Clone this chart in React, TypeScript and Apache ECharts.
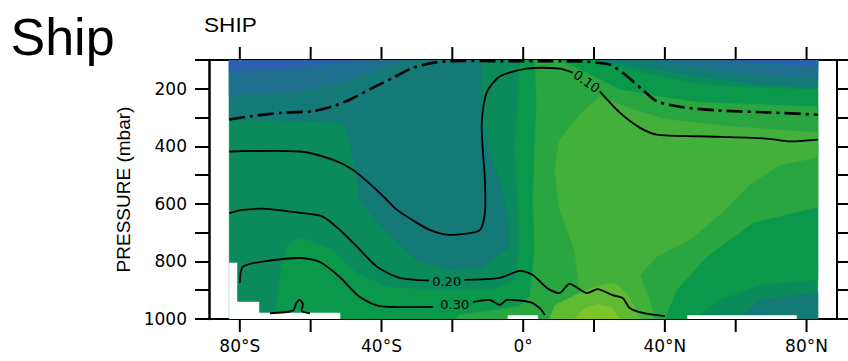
import React, { useEffect, useRef } from 'react';
import * as echarts from 'echarts';

// ---- axes ----
const LAT_MIN = -88.7;
const LAT_MAX = 88.6;
const TICK_MIN = -80;
const TICK_MAX = 80;
const P_MIN = 100;
const P_MAX = 1000;
const LAT_TICKS = [-80, -60, -40, -20, 0, 20, 40, 60, 80];
const LAT_LABELS = [-80, -40, 0, 40, 80];
const P_LABELS = [200, 400, 600, 800, 1000];

// ---- filled regions, [latitude, pressure] ----
const C3_BASE = [[-83, 100], [83.2, 100], [83.2, 1000], [-83, 1000]];
const C4_REGION = [[-1, 100], [18.8, 100], [24.5, 116], [35.7, 150], [49.9, 185], [66.8, 196], [83.2, 203], [83.2, 864], [66.8, 882], [55.5, 934], [48.4, 1000], [-70.1, 1000], [-68.7, 854], [-66.8, 749], [-63.1, 715], [-53.8, 760], [-47, 840], [-38.5, 889], [-25.5, 899], [-8.6, 899], [-2.4, 864], [-1, 760], [-1.5, 586], [-2.4, 412], [-1.5, 238]];
const C5_REGION = [[3.3, 100], [10.3, 100], [18.8, 150], [27.3, 203], [38.5, 227], [49.8, 248], [66.8, 255], [83.2, 262], [83.2, 610], [64.8, 666], [51.8, 784], [43.3, 899], [40, 1000], [-19.3, 1000], [-17.9, 985], [-9.4, 972], [-1, 955], [1.9, 920], [3.3, 760], [2.7, 586], [3.3, 412], [3.8, 238]];
const C6_REGION = [[21.6, 227], [31, 272], [40.5, 307], [59.2, 332], [83.2, 352], [83.2, 439], [72.4, 464], [64, 533], [55.5, 638], [47, 725], [37.7, 784], [32.9, 847], [35.7, 934], [37.1, 1000], [13.1, 1000], [15.9, 899], [14.5, 760], [10.3, 621], [8.9, 481], [10.3, 377], [15.9, 290]];
const C7_REGION = [[7.5, 1000], [8.9, 953], [14.5, 918], [21, 885], [25.9, 875], [29.5, 916], [32.9, 1000]];
const C8_REGION = [[14.5, 1000], [17.4, 962], [21, 948], [25, 962], [27.3, 1000]];
const C2_WEST = [[-83, 100], [-83, 307], [-63.1, 311], [-51, 319], [-49, 377], [-47, 492], [-46.2, 586], [-38.5, 701], [-30, 795], [-20.7, 829], [-11.4, 819], [-3.8, 749], [-4.6, 631], [-6.6, 516], [-9.4, 429], [-11.7, 307], [-12, 168], [-11.4, 100]];
const C2_NE = [[21.6, 100], [83.2, 100], [83.2, 196], [66.8, 185], [49.9, 157], [32.9, 123], [21.6, 102]];
const C2_SE = [[61.1, 1000], [66.8, 934], [83.2, 909], [83.2, 1000]];
const C1_NW = [[-83, 100], [-83, 220], [-63.1, 210], [-49, 168], [-39.6, 126], [-32.9, 100]];
const C1_NE = [[38.5, 100], [83.2, 100], [83.2, 165], [64, 147], [47, 119]];
const C0_NW = [[-83, 100], [-83, 140], [-63.1, 126], [-49, 105], [-45, 100]];
const C0_NE = [[58, 100], [83.2, 100], [83.2, 123], [66.8, 109]];
const MASK_SW = [[-83, 805], [-80.8, 805], [-80.8, 941], [-74.6, 941], [-74.6, 979], [-51.7, 979], [-51.7, 1000], [-83, 1000]];
const MASK_EQ = [[-4.3, 988], [4.1, 988], [4.1, 1000], [-4.3, 1000]];
const MASK_NH = [[46.4, 988], [77.2, 988], [77.2, 1000], [46.4, 1000]];

// ---- contour lines ----
const LINE_DASHDOT = [[-83, 307], [-77.2, 296], [-67.9, 283], [-59.4, 278], [-53.8, 261], [-49, 238], [-42.5, 197], [-36.8, 162], [-31.2, 127], [-25.6, 110], [-20.7, 104], [-6.6, 104], [10.3, 104], [16.8, 105], [24.4, 116], [28.1, 144], [33.7, 203], [37.7, 243], [45.1, 264], [54.7, 275], [68.8, 282], [83.2, 290]];
const LINE_010_A = [[-83, 418], [-63.1, 418], [-53.8, 446], [-48.1, 481], [-42.5, 539], [-38.5, 586], [-35.7, 620], [-30, 666], [-26.4, 690], [-21.6, 707], [-16.5, 704], [-12.2, 690], [-10.8, 631], [-10.8, 516], [-11.4, 412], [-11.7, 318], [-10.3, 213], [-6.6, 157], [1, 130], [10.3, 130], [14, 144]];
const LINE_010_B = [[21.6, 209], [27.3, 283], [32.9, 335], [37.7, 359], [49.8, 365], [68.8, 373], [75.3, 383], [83.2, 377]];
const LINE_020_A = [[-83, 632], [-79.2, 621], [-72.4, 617], [-63.1, 631], [-56.6, 644], [-51.8, 690], [-47, 748], [-41.3, 818], [-34.9, 857], [-26.6, 866]];
const LINE_020_B = [[-16.6, 864], [-6.6, 857], [-1, 833], [2.7, 847], [6.7, 892], [10.3, 910], [13.1, 878], [17.9, 910], [21, 896], [25.2, 917], [28.1, 927], [30.1, 962], [33.8, 979], [40, 990]];
const LINE_030_A = [[-80, 875], [-79.2, 819], [-74.4, 802], [-63.1, 788], [-57.4, 802], [-51.8, 854], [-46.2, 923], [-40.5, 955], [-25.5, 958]];
const LINE_030_B = [[-14.2, 941], [-9.4, 934], [-6.6, 951], [-4.6, 934], [1.9, 941], [4.7, 962], [6.1, 986]];
const LINE_SURF = [[-71.5, 980], [-65, 971], [-64, 944], [-63.1, 934], [-62.2, 948], [-62.5, 972], [-60.2, 980]];

// ---- contour labels ----
const LABEL_TEXTS = ['0.10', '0.20', '0.30'];
const LABEL_POS = [[17.9, 175], [-21.6, 871], [-19.3, 951]];
const LABEL_ANGLE = [-0.62, 0, 0];

const COLORS = ['#2d5fae', '#1e6f8d', '#137a78', '#0b8a5c', '#0a984b', '#29a640', '#42b03a', '#5fbb31', '#7cc62a', '#ffffff'];

const FILL_LAYERS: [number[][], number][] = [
  [C3_BASE, 3], [C4_REGION, 4], [C5_REGION, 5], [C6_REGION, 6], [C7_REGION, 7], [C8_REGION, 8],
  [C2_WEST, 2], [C2_NE, 2], [C2_SE, 2], [C1_NW, 1], [C1_NE, 1], [C0_NW, 0], [C0_NE, 0],
  [MASK_SW, 9], [MASK_EQ, 9], [MASK_NH, 9],
];

const LINES: [number[][], boolean][] = [
  [LINE_DASHDOT, true], [LINE_010_A, false], [LINE_010_B, false], [LINE_020_A, false],
  [LINE_020_B, false], [LINE_030_A, false], [LINE_030_B, false], [LINE_SURF, false],
];

// tick marks: [latitude, frame pressure, outward direction]
const TICK_MARKS = [
  ...LAT_TICKS.map((v) => [v, P_MAX, 1]),
  ...LAT_TICKS.map((v) => [v, P_MIN, -1]),
];

const fmtLat = (v: number) => (!LAT_LABELS.includes(v) ? '' : v === 0 ? '0°' : v < 0 ? `${-v}°S` : `${v}°N`);

export default function App() {
  const ref = useRef<HTMLDivElement>(null);
  useEffect(() => {
    if (!ref.current) return;
    const chart = echarts.init(ref.current, undefined, { renderer: 'svg' });
    const black = { color: '#000', width: 2 };
    const tickFont = { fontSize: 17, fontFamily: 'DejaVu Sans', color: '#000' };
    const G0 = { left: 209, right: 11, top: 60, bottom: 42 };
    const G1 = { left: 239.8, right: 41.5, top: 60, bottom: 42 };
    const frameX = (pos: string) => ({
      type: 'value', gridIndex: 0, min: LAT_MIN, max: LAT_MAX, position: pos,
      axisLine: { show: true, onZero: false, lineStyle: black },
      axisTick: { show: false }, axisLabel: { show: false }, splitLine: { show: false },
    });
    const option: any = {
      animation: false,
      grid: [G0, G1],
      xAxis: [
        frameX('bottom'),
        frameX('top'),
        {
          type: 'value', gridIndex: 1, min: TICK_MIN, max: TICK_MAX, interval: 20, position: 'bottom',
          axisLine: { show: false, onZero: false }, axisTick: { show: false },
          axisLabel: { show: true, formatter: fmtLat, margin: 18, showMinLabel: true, showMaxLabel: true, ...tickFont },
          splitLine: { show: false },
        },
      ],
      yAxis: [
        {
          type: 'value', gridIndex: 0, min: P_MIN, max: P_MAX, interval: 100, inverse: true, position: 'left',
          name: 'PRESSURE (mbar)', nameLocation: 'middle', nameGap: 75,
          nameTextStyle: { fontSize: 19, fontFamily: 'Liberation Sans', color: '#000' },
          axisLine: { show: true, onZero: false, lineStyle: { color: '#000', width: 2.5 } },
          axisTick: { show: true, length: 14, lineStyle: black },
          axisLabel: { formatter: (v: number) => (P_LABELS.includes(v) ? String(v) : ''), margin: 22, ...tickFont },
          splitLine: { show: false },
        },
        {
          type: 'value', gridIndex: 0, min: P_MIN, max: P_MAX, interval: 100, inverse: true, position: 'right',
          axisLine: { show: true, onZero: false, lineStyle: black },
          axisTick: { show: true, length: 14, lineStyle: black },
          axisLabel: { show: false },
          splitLine: { show: false },
        },
        {
          type: 'value', gridIndex: 1, min: P_MIN, max: P_MAX, inverse: true,
          axisLine: { show: false, onZero: false }, axisTick: { show: false }, axisLabel: { show: false }, splitLine: { show: false },
        },
      ],
      graphic: [
        { type: 'text', x: 10.5, y: 37, style: { text: 'Ship', fontSize: 52, fontFamily: 'Liberation Sans', fill: '#000', textVerticalAlign: 'middle', verticalAlign: 'middle' } },
        { type: 'text', x: 204, y: 25, scaleX: 1.13, style: { text: 'SHIP', fontSize: 20, fontFamily: 'Liberation Sans', fill: '#000', textVerticalAlign: 'middle', verticalAlign: 'middle' } },
      ],
      series: [
        {
          type: 'custom', coordinateSystem: 'cartesian2d', xAxisIndex: 0, yAxisIndex: 0, clip: true, silent: true,
          data: FILL_LAYERS.map((_, i) => [0, 500, i]), encode: { x: 0, y: 1 },
          renderItem: (params: any, api: any) => {
            const [pts, lvl] = FILL_LAYERS[params.dataIndex];
            return { type: 'polygon', shape: { points: pts.map((q) => api.coord(q)) }, style: { fill: COLORS[lvl], stroke: COLORS[lvl], lineWidth: 0.5 } };
          },
        },
        {
          type: 'custom', coordinateSystem: 'cartesian2d', xAxisIndex: 0, yAxisIndex: 0, clip: true, silent: true,
          data: LINES.map((_, i) => [0, 500, i]), encode: { x: 0, y: 1 },
          renderItem: (params: any, api: any) => {
            const [pts, dashed] = LINES[params.dataIndex];
            return {
              type: 'polyline',
              shape: { points: pts.map((q) => api.coord(q)), smooth: 0.25 },
              style: { stroke: '#000', fill: 'none', lineWidth: dashed ? 2.6 : 1.8, lineDash: dashed ? [16, 5, 3, 5] : null },
            };
          },
        },
        {
          // latitude tick marks, one polyline per data item
          type: 'custom', coordinateSystem: 'cartesian2d', xAxisIndex: 0, yAxisIndex: 0, clip: false, silent: true,
          data: TICK_MARKS.map((m, i) => [m[0], 500, i]), encode: { x: 0, y: 1 },
          renderItem: (params: any, api: any) => {
            const [v, p, dir] = TICK_MARKS[params.dataIndex];
            const c = api.coord([v, p]);
            return {
              type: 'polyline',
              shape: { points: [[c[0], c[1]], [c[0] + 0.01, c[1] + dir * 13]] },
              style: { stroke: '#000', fill: 'none', lineWidth: 2 },
            };
          },
        },
        {
          type: 'custom', coordinateSystem: 'cartesian2d', xAxisIndex: 0, yAxisIndex: 0, clip: false, silent: true,
          data: LABEL_POS.map((q, i) => [q[0], q[1], i]), encode: { x: 0, y: 1 },
          renderItem: (params: any, api: any) => {
            const i = params.dataIndex;
            const c = api.coord(LABEL_POS[i]);
            return {
              type: 'text', x: c[0], y: c[1], rotation: LABEL_ANGLE[i],
              style: { text: LABEL_TEXTS[i], fontSize: 13, fontFamily: 'DejaVu Sans', fill: '#000', align: 'center', verticalAlign: 'middle', textAlign: 'center', textVerticalAlign: 'middle' },
            };
          },
        },
      ],
    };
    chart.setOption(option);
    return () => chart.dispose();
  }, []);
  return <div ref={ref} style={{ position: 'fixed', left: 0, top: 0, width: 848, height: 361, background: '#fff' }} />;
}
